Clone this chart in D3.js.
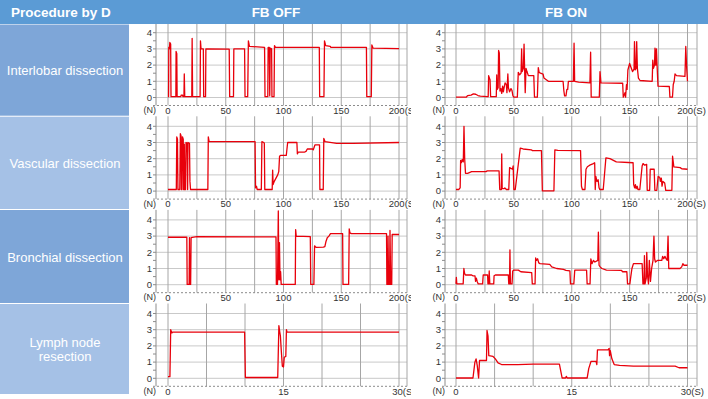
<!DOCTYPE html>
<html>
<head>
<meta charset="utf-8">
<script src="https://cdn.jsdelivr.net/npm/d3@7"></script>
<style>
body { margin: 0; background: #fff; }
svg { display: block; font-family: Arial, "Liberation Sans", sans-serif; }
</style>
</head>
<body>
<div id="chart"></div>
<script>
// row / column labels
const procedures = [['Interlobar dissection'], ['Vascular dissection'], ['Bronchial dissection'], ['Lymph node', 'resection']];
const conditions = ['FB OFF', 'FB ON'];
const headerLabel = 'Procedure by D';

// axes
const forceTicks = [0, 1, 2, 3, 4];
const longTimeMax = 200, longGrid = 25, longLabels = [0, 50, 100, 150, 200];
const shortTimeMax = 30, shortGrid = 5, shortLabels = [0, 15, 30];

// force traces [time (s), force (N)]
const interlobarOff = [[0,0.05],[0.5,0.05],[0.7,3.1],[1.2,3.0],[1.6,3.4],[2.3,3.3],[2.6,0.05],[6.8,0.05],[7.0,2.85],[7.6,2.7],[7.9,0.05],[11,0.05],[11.5,0.15],[12.5,0.15],[13,0.05],[13.8,0.05],[14.1,1.45],[14.5,0.05],[20.6,0.05],[20.9,3.65],[21.3,0.05],[27.8,0.05],[28.1,3.5],[28.6,3.0],[30.6,3.0],[30.9,0.05],[32.5,0.05],[32.8,3.0],[53,2.98],[53.4,0.05],[56.7,0.05],[57,3.0],[66.3,3.0],[66.7,0.05],[69,0.05],[69.6,3.5],[70.5,3.15],[83.6,3.1],[84,0.05],[86.4,0.05],[86.7,3.1],[87.7,3.1],[88.1,0.1],[88.5,3.05],[89.7,3.0],[90,0.05],[91.8,0.05],[92.2,3.2],[93,3.1],[131,3.1],[131.3,0.05],[135,0.05],[135.5,3.5],[136.5,3.2],[140.5,3.15],[141,3.1],[171.8,3.1],[172.1,0.05],[176,0.05],[176.5,3.25],[177.5,3.05],[200,3.02]];
const interlobarOn = [[0,0.02],[9,0.03],[10,0.12],[13,0.15],[15,0.22],[17,0.2],[19,0.12],[21,0.08],[27,0.05],[27.8,0.05],[28.2,1.35],[28.8,1.2],[29.4,1.1],[29.9,0.05],[34.8,0.05],[35.2,1.4],[35.6,0.5],[36.4,0.6],[36.8,2.9],[37.4,2.75],[38,0.4],[38.8,0.55],[39.5,0.25],[40.3,0.7],[40.9,0.35],[41.5,0.6],[42.4,0.9],[43.5,0.8],[44,0.3],[44.8,1.45],[45.3,0.6],[46.3,0.35],[47.5,0.55],[48.3,0.45],[49.2,0.1],[50,0.02],[53,0.02],[53.8,1.55],[55,1.4],[56.2,1.5],[56.7,3.0],[57.2,1.6],[58.2,1.8],[58.8,3.3],[59.4,1.4],[59.8,0.3],[60.5,1.8],[61.3,1.6],[62.5,1.35],[67.2,1.35],[67.8,0.02],[70.3,0.02],[71.1,1.85],[71.8,1.55],[73,1.5],[75.2,1.45],[76,1.2],[78,1.1],[79.8,1.0],[92.5,1.0],[93.2,0.4],[93.8,0.1],[95,0.1],[95.8,0.5],[96.5,0.5],[97.1,1.0],[101.4,1.0],[102,3.35],[102.5,1.0],[106,0.95],[115.7,0.9],[116.3,2.8],[116.8,0.02],[123.8,0.02],[124.4,1.6],[125.2,0.9],[144,0.88],[144.5,0.02],[146,0.3],[146.5,0.02],[147.3,0.8],[147.8,0.5],[148.5,1.7],[150,2.1],[151,1.9],[152.5,1.6],[153.8,1.75],[154.2,3.45],[154.8,1.7],[155.6,1.8],[156.1,3.45],[156.7,1.8],[157.6,1.2],[159,1.05],[169.5,1.0],[170,2.3],[170.6,1.8],[171.5,2.0],[171.9,3.05],[172.6,2.0],[173.2,3.0],[173.7,2.0],[174.5,0.7],[184.3,0.68],[184.8,0.02],[187,0.02],[187.7,0.8],[188.5,1.0],[189.2,1.45],[190.5,1.35],[197.8,1.3],[198.5,3.15],[199.3,1.8],[200,1.0]];
const vascularOff = [[0,0.1],[7.2,0.1],[7.6,3.35],[8.2,3.2],[8.6,0.1],[10.2,0.1],[10.7,3.55],[11.3,3.4],[11.6,0.1],[12.1,0.1],[12.5,3.35],[13.2,3.2],[13.5,0.1],[13.8,0.1],[14.1,2.9],[14.6,0.1],[15.2,0.1],[15.6,3.0],[16.6,2.95],[17.0,0.1],[17.3,3.0],[18.6,2.95],[19.0,0.6],[19.5,0.1],[34.5,0.1],[34.9,3.35],[35.6,3.05],[75.4,3.05],[75.8,0.2],[76.6,0.3],[77.2,0.1],[80.8,0.1],[81.3,3.05],[82.9,3.0],[83.4,2.95],[83.8,0.1],[90.2,0.1],[90.6,1.3],[91,0.4],[92,0.6],[93.5,0.8],[95,1.0],[95.9,1.2],[96.6,2.15],[97.4,2.2],[102.4,2.2],[103.6,3.0],[111.6,3.0],[112,2.3],[112.7,2.4],[118,2.4],[119.5,2.45],[120.6,2.6],[125.2,2.6],[125.8,2.55],[127.2,2.85],[131.2,2.85],[131.5,0.1],[134.4,0.1],[134.9,3.25],[136,3.05],[146,2.95],[160,2.95],[200,3.0]];
const vascularOn = [[0,0.1],[2.5,0.1],[3,0.15],[3.6,0.2],[4.0,1.9],[4.6,1.75],[5.4,1.95],[6.3,1.8],[6.9,4.0],[7.5,2.0],[8.2,1.1],[10,1.1],[13.5,1.2],[25.9,1.2],[27,1.25],[37.2,1.25],[37.8,0.1],[39.2,0.1],[39.5,2.3],[39.9,0.15],[41.5,0.15],[42.2,0.2],[43.5,0.1],[45.6,0.1],[46.3,1.45],[47.5,1.4],[48.8,1.35],[49.4,1.55],[50,0.1],[51.2,0.1],[55.5,2.65],[58,2.6],[65,2.55],[66,2.5],[73.8,2.5],[74.6,0.02],[84.6,0.02],[85.4,2.55],[88,2.52],[107.6,2.5],[108.4,0.3],[109.2,0.1],[111.4,0.1],[112.3,1.35],[113.5,1.5],[115.5,1.6],[118.7,1.7],[119.8,1.75],[120.3,0.1],[120.8,0.9],[121.8,0.6],[122.8,0.7],[123.6,0.2],[124.2,0.1],[127.2,0.1],[129.5,2.05],[133,2.0],[138.5,1.8],[153,1.75],[153.5,0.4],[154.3,0.2],[155,0.4],[155.6,0.15],[156.5,0.3],[157.2,0.1],[158.8,0.1],[160.8,1.55],[161.6,1.7],[163,1.6],[164.7,1.65],[165.2,0.05],[167.3,0.05],[167.8,1.35],[171.2,1.35],[171.8,0.05],[173.5,0.05],[174.6,0.9],[176,0.85],[176.6,0.6],[177.4,0.8],[178,0.3],[178.8,0.6],[180.3,0.5],[181.2,0.05],[186.5,0.05],[187.1,2.15],[188.2,1.5],[193.7,1.45],[195,1.38],[200,1.35]];
const bronchialOff = [[0,2.93],[16.3,2.93],[16.6,0.02],[18.3,0.02],[18.6,2.9],[18.9,0.02],[19.6,0.02],[20,2.9],[21,2.92],[25,2.97],[93.5,2.95],[93.8,0.02],[94.8,0.02],[95.5,4.55],[96.0,0.3],[96.5,2.6],[97,0.3],[97.5,0.8],[98,0.02],[110.2,0.02],[110.5,3.4],[111,3.0],[123.2,2.97],[123.6,0.02],[126.3,0.02],[126.9,2.4],[127.6,2.35],[128.3,2.3],[134.5,2.32],[135.8,2.35],[136.7,2.65],[137.9,2.9],[139.3,3.0],[140.7,3.15],[151.2,3.15],[151.5,0.02],[156.4,0.02],[156.9,3.45],[157.5,3.2],[158.7,3.15],[189.2,3.15],[189.5,0.02],[190.2,0.02],[190.5,3.0],[191,0.02],[191.8,0.02],[192.2,3.35],[192.8,0.02],[193.7,0.02],[194.1,3.1],[200,3.1]];
const bronchialOn = [[0,0.05],[0.3,0.45],[0.7,0.05],[6.2,0.05],[6.8,1.0],[7.4,0.7],[8.2,0.6],[13.5,0.6],[14.5,0.55],[16.4,0.55],[16.9,0.2],[17.6,0.4],[18.3,0.2],[19.2,0.05],[23,0.05],[23.5,0.6],[27.3,0.6],[27.6,0.05],[28.3,0.05],[28.7,0.85],[29.2,0.05],[32.6,0.05],[32.9,0.55],[34,0.6],[45.2,0.6],[45.6,0.05],[46.2,0.05],[46.6,2.15],[47,0.05],[48.4,0.05],[49,0.85],[50,0.9],[53.9,0.9],[56,0.8],[65.4,0.75],[65.9,0.05],[68.3,0.05],[68.8,1.65],[69.5,1.5],[70.5,1.6],[71.5,1.35],[72.6,1.3],[81,1.25],[82.7,1.1],[87,1.0],[92.8,0.95],[95,0.88],[98.4,0.85],[98.9,0.05],[101.8,0.05],[102.6,0.9],[112.8,0.9],[113.3,0.05],[115.8,0.05],[116.5,1.6],[117.5,1.3],[118.7,1.5],[120,1.4],[122.5,1.5],[123,3.25],[123.6,1.2],[124.5,1.1],[126,1.0],[130,0.9],[143,0.88],[144,0.8],[147.6,0.8],[148.2,0.05],[150.2,0.05],[151,0.5],[152,1.0],[153.3,1.3],[160.8,1.3],[161.5,0.05],[162.4,0.05],[162.8,1.8],[163.3,0.05],[164.4,0.4],[164.8,2.0],[165.4,0.6],[166.3,0.05],[167,1.5],[168,0.2],[169,1.0],[170.2,1.5],[171,3.0],[171.6,1.6],[172.3,1.4],[174,1.5],[177.8,1.5],[178.5,1.75],[179.5,1.6],[180.5,1.75],[181.5,1.6],[182.5,1.5],[183.2,3.0],[183.8,1.0],[184.5,1.0],[193.5,1.0],[195,1.1],[196,1.3],[197,1.2],[200,1.2]];
const lymphOff = [[0,0.1],[0.25,0.1],[0.35,3.0],[0.5,2.8],[0.6,2.85],[9.95,2.85],[10.05,0.05],[14.25,0.05],[14.4,3.25],[14.5,2.9],[14.6,2.6],[14.7,1.8],[14.85,0.75],[15.0,0.7],[15.1,1.3],[15.3,1.35],[15.38,3.0],[15.45,2.85],[20,2.85],[30,2.85]];
const lymphOn = [[0,0.02],[2.2,0.02],[2.45,1.0],[2.6,1.2],[2.75,0.8],[2.93,0.02],[3.05,1.1],[3.5,1.1],[3.95,1.1],[4.02,2.95],[4.15,2.6],[4.25,1.4],[4.8,1.35],[5.1,1.2],[5.45,0.95],[5.9,0.85],[8,0.85],[10,0.88],[13.4,0.88],[13.75,0.02],[14.2,0.02],[14.3,0.12],[14.4,0.02],[17,0.02],[17.2,0.6],[17.5,1.05],[18.15,1.05],[18.25,0.85],[18.33,1.75],[19.7,1.75],[19.85,1.85],[19.9,1.4],[20,1.7],[20.2,1.2],[20.5,0.85],[21.2,0.8],[23,0.75],[28.4,0.75],[28.9,0.65],[30,0.65]];

const traces = [[interlobarOff, interlobarOn], [vascularOff, vascularOn], [bronchialOff, bronchialOn], [lymphOff, lymphOn]];

// layout
const W = 708, H = 399, headerH = 24;
const rowZero = [97.5, 191.1, 284.7, 378.3];
const unitPx = 16.2;
const cellTop = [24.5, 116.7, 210, 304], cellBottom = 395;
const cellFill = ['#7ea6d8', '#a5c1e6', '#7ea6d8', '#a5c1e6'];
const cols = [
	{ axisX: 156, x0: 168, x1: 399, right: 407, clipL: 130, clipR: 411, headX: 276 },
	{ axisX: 445, x0: 456, x1: 687.5, right: 697, clipL: 411, clipR: 708, headX: 566 }
];

const svg = d3.select('#chart').append('svg').attr('width', W).attr('height', H);

// header bar
svg.append('rect').attr('width', W).attr('height', headerH).attr('fill', '#5b9bd5');
svg.append('text').attr('x', 11).attr('y', 12).attr('dy', '0.35em')
	.attr('fill', '#fff').attr('font-weight', 'bold').attr('font-size', 13.5).text(headerLabel);
cols.forEach((c, j) => {
	svg.append('text').attr('x', c.headX).attr('y', 12).attr('dy', '0.35em').attr('text-anchor', 'middle')
		.attr('fill', '#fff').attr('font-weight', 'bold').attr('font-size', 13.5).text(conditions[j]);
});

// left procedure cells
procedures.forEach((lines, i) => {
	const top = cellTop[i], bottom = i < 3 ? cellTop[i + 1] : cellBottom;
	svg.append('rect').attr('x', 0).attr('y', top).attr('width', 129).attr('height', bottom - top - 1)
		.attr('fill', cellFill[i]);
	const mid = (top + bottom) / 2;
	lines.forEach((t, k) => {
		svg.append('text').attr('x', 65).attr('y', mid + (k - (lines.length - 1) / 2) * 14.5)
			.attr('dy', '0.35em').attr('text-anchor', 'middle').attr('fill', '#fff')
			.attr('font-size', 13).text(t);
	});
});

// clip paths per column
cols.forEach((c, j) => {
	svg.append('clipPath').attr('id', `clip-${j}`).append('rect')
		.attr('x', c.clipL).attr('y', headerH).attr('width', c.clipR - c.clipL).attr('height', H - headerH);
});

const drawPanel = (i, j) => {
	const c = cols[j];
	const short = i === 3;
	const tMax = short ? shortTimeMax : longTimeMax;
	const step = short ? shortGrid : longGrid;
	const labels = short ? shortLabels : longLabels;
	const x = d3.scaleLinear().domain([0, tMax]).range([c.x0, c.x1]);
	const y = d3.scaleLinear().domain([0, 4]).range([rowZero[i], rowZero[i] - 4 * unitPx]);
	const top = y(4) - 10, axisY = y(0) + 8;

	const g = svg.append('g').attr('clip-path', `url(#clip-${j})`);

	// horizontal grid
	g.append('g').selectAll('line').data(forceTicks).join('line')
		.attr('x1', c.axisX).attr('x2', c.right)
		.attr('y1', d => y(d)).attr('y2', d => y(d))
		.attr('stroke', '#c9c9c9').attr('stroke-width', 1);

	// vertical grid
	g.append('g').selectAll('line').data(d3.range(0, tMax + 0.01, step)).join('line')
		.attr('x1', d => x(d)).attr('x2', d => x(d))
		.attr('y1', top).attr('y2', axisY)
		.attr('stroke', '#a6a6a6').attr('stroke-width', 1);
	g.append('line').attr('x1', c.right).attr('x2', c.right).attr('y1', top).attr('y2', axisY)
		.attr('stroke', '#a6a6a6');

	// y axis
	g.append('line').attr('x1', c.axisX).attr('x2', c.axisX).attr('y1', top).attr('y2', axisY)
		.attr('stroke', '#8c8c8c');
	g.append('g').selectAll('line').data(d3.range(0, 4.01, 0.5)).join('line')
		.attr('x1', c.axisX - 3).attr('x2', c.axisX)
		.attr('y1', d => y(d)).attr('y2', d => y(d)).attr('stroke', '#8c8c8c');
	g.append('g').selectAll('text').data(forceTicks).join('text')
		.attr('x', c.axisX - 4).attr('y', d => y(d)).attr('dy', '0.35em')
		.attr('text-anchor', 'end').attr('font-size', 9.5).attr('fill', '#333').text(d => d);

	// x axis (dashed)
	g.append('line').attr('x1', c.axisX - 3).attr('x2', c.right).attr('y1', axisY).attr('y2', axisY)
		.attr('stroke', '#8c8c8c').attr('stroke-dasharray', '2,2');
	g.append('text').attr('x', c.axisX).attr('y', axisY + 4.5).attr('dy', '0.35em')
		.attr('text-anchor', 'end').attr('font-size', 9).attr('fill', '#333').text('(N)');
	g.append('g').selectAll('text').data(labels).join('text')
		.attr('x', d => d === tMax ? x(d) - (String(d).length * 3.4) : x(d))
		.attr('y', axisY + 5).attr('dy', '0.35em')
		.attr('text-anchor', d => d === tMax ? 'start' : 'middle')
		.attr('font-size', 9.5).attr('fill', '#333')
		.text(d => d === tMax ? `${d}(S)` : d);

	// force trace
	const line = d3.line().x(d => x(d[0])).y(d => y(d[1]));
	g.append('path').datum(traces[i][j]).attr('d', line)
		.attr('fill', 'none').attr('stroke', '#e8000b').attr('stroke-width', 1.3)
		.attr('stroke-linejoin', 'round');
};

for (let i = 0; i < 4; i++) {
	for (let j = 0; j < 2; j++) drawPanel(i, j);
}
</script>
</body>
</html>
